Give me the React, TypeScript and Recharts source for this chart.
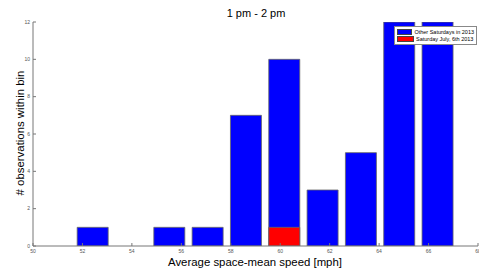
import React from "react";
import { ComposedChart, Bar, XAxis, YAxis } from "recharts";

const binCenters = [52.4, 53.95, 55.5, 57.05, 58.6, 60.15, 61.7, 63.25, 64.8, 66.35];
const otherSaturdays = [1, 0, 1, 1, 7, 10, 3, 5, 12, 12];
const july6th = [0, 0, 0, 0, 0, 1, 0, 0, 0, 0];
const xTicks = [50, 52, 54, 56, 58, 60, 62, 64, 66, 68];
const yTicks = [0, 2, 4, 6, 8, 10, 12];
const seriesNames = ["Other Saturdays in 2013", "Saturday July, 6th 2013"];
const seriesColors = ["#0000ff", "#ff0000"];
const title = "1 pm - 2 pm";

const data = binCenters.map((x, i) => ({ x, other: otherSaturdays[i], july: july6th[i] }));

const FONT = "'Liberation Sans', Arial, sans-serif";

const LegendBox = () => (
  <div
    style={{
      position: "absolute",
      left: 394,
      top: 26,
      background: "#fff",
      border: "1px solid #888",
      padding: "1px 2px",
      fontFamily: FONT,
      fontSize: 5.5,
      color: "#000",
      width: 83,
      boxSizing: "border-box",
    }}
  >
    {seriesNames.map((n, i) => (
      <div key={n} style={{ display: "flex", alignItems: "center", height: 7.5 }}>
        <span style={{ display: "inline-block", width: 17, height: 6, background: seriesColors[i], border: "0.5px solid #444", marginRight: 2, boxSizing: "border-box" }} />
        <span style={{ whiteSpace: "nowrap" }}>{n}</span>
      </div>
    ))}
  </div>
);

export default function App() {
  return (
    <div style={{ position: "fixed", left: 0, top: 0, width: 479, height: 271, background: "#fff" }}>
      <ComposedChart
        width={479}
        height={271}
        data={data}
        margin={{ top: 22, right: 1, bottom: 0, left: 0 }}
        style={{ fontFamily: FONT }}
      >
        <text x={256} y={17} textAnchor="middle" fontSize={11} fontFamily={FONT} fill="#000">
          {title}
        </text>
        <text x={255} y={266} textAnchor="middle" fontSize={11.4} fontFamily={FONT} fill="#000">
          Average space-mean speed [mph]
        </text>
        <text
          x={0}
          y={0}
          transform="translate(24,133) rotate(-90)"
          textAnchor="middle"
          fontSize={11.4}
          fontFamily={FONT}
          fill="#000"
        >
          # observations within bin
        </text>
        <XAxis
          xAxisId="a"
          dataKey="x"
          type="number"
          domain={[50, 68]}
          ticks={xTicks}
          allowDataOverflow
          height={25}
          stroke="#777"
          tickSize={-3}
          tickMargin={6}
          tick={{ fontSize: 5, fill: "#555" }}
          interval={0}
        />
        <XAxis xAxisId="b" dataKey="x" type="number" domain={[50, 68]} allowDataOverflow hide />
        <YAxis
          domain={[0, 12]}
          ticks={yTicks}
          allowDataOverflow
          width={33}
          stroke="#777"
          tickSize={-3}
          tickMargin={6}
          tick={{ fontSize: 5, fill: "#555" }}
          interval={0}
        />
        <Bar
          xAxisId="a"
          dataKey="other"
          name={seriesNames[0]}
          fill={seriesColors[0]}
          stroke="#666"
          strokeWidth={0.8}
          barSize={31}
          isAnimationActive={false}
        />
        <Bar
          xAxisId="b"
          dataKey="july"
          name={seriesNames[1]}
          fill={seriesColors[1]}
          stroke="#666"
          strokeWidth={0.8}
          barSize={31}
          isAnimationActive={false}
        />
      </ComposedChart>
      <LegendBox />
    </div>
  );
}
